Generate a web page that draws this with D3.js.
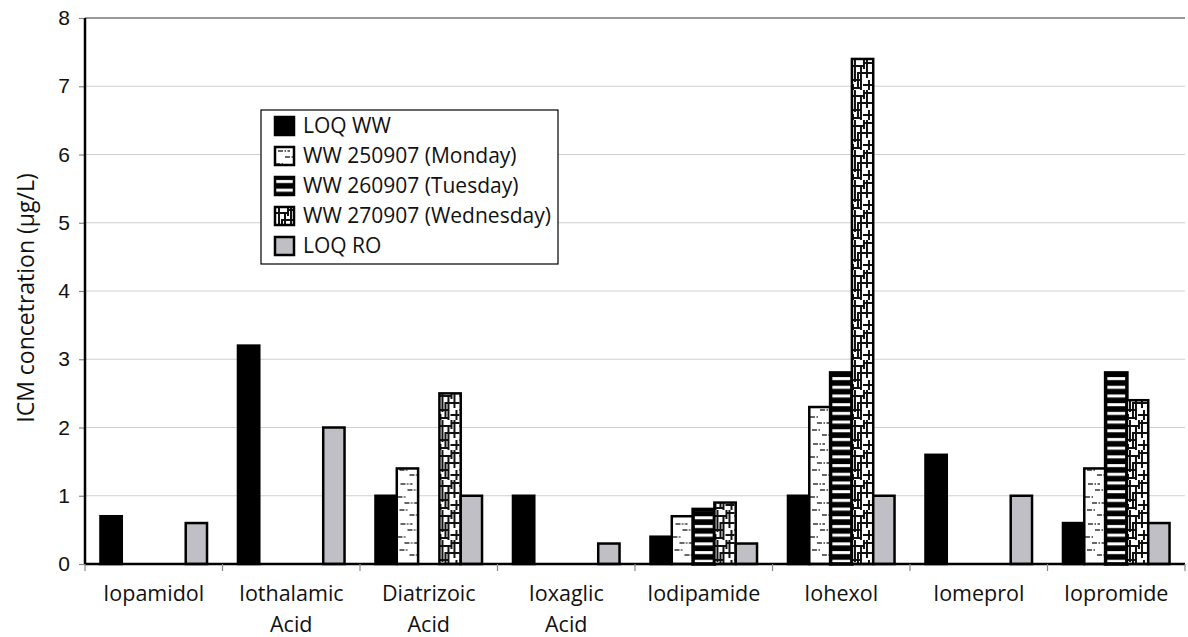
<!DOCTYPE html>
<html>
<head>
<meta charset="utf-8">
<script src="https://cdn.jsdelivr.net/npm/d3@7"></script>
<style>
  body { margin: 0; background: #fff; }
  svg { display: block; font-family: "Open Sans", "Noto Sans", sans-serif; }
</style>
</head>
<body>
<svg id="chart" width="1188" height="637"></svg>
<script>
//// DATA
const categories = ["Iopamidol", "Iothalamic Acid", "Diatrizoic Acid", "Ioxaglic Acid", "Iodipamide", "Iohexol", "Iomeprol", "Iopromide"];
const seriesNames = ["LOQ WW", "WW 250907 (Monday)", "WW 260907 (Tuesday)", "WW 270907 (Wednesday)", "LOQ RO"];
const loqWW   = [0.7, 3.2, 1.0, 1.0, 0.4, 1.0, 1.6, 0.6];
const monday  = [0, 0, 1.4, 0, 0.7, 2.3, 0, 1.4];
const tuesday = [0, 0, 0, 0, 0.8, 2.8, 0, 2.8];
const wednes  = [0, 0, 2.5, 0, 0.9, 7.4, 0, 2.4];
const loqRO   = [0.6, 2.0, 1.0, 0.3, 0.3, 1.0, 1.0, 0.6];
const yTicks = [0, 1, 2, 3, 4, 5, 6, 7, 8];

const seriesValues = [loqWW, monday, tuesday, wednes, loqRO];
const fills = ["#000", "url(#patMon)", "url(#patTue)", "url(#patWed)", "#bfbfc5"];

//// LAYOUT
const margin = { top: 18, right: 3, bottom: 73, left: 85 };
const width = 1188, height = 637;
const svg = d3.select("#chart");

const x0 = d3.scaleBand().domain(categories).range([margin.left, width - margin.right]).paddingInner(0.225).paddingOuter(0.1125);
const x1 = d3.scaleBand().domain(d3.range(seriesNames.length)).range([0, x0.bandwidth()]);
const y = d3.scaleLinear().domain([0, 8]).range([height - margin.bottom, margin.top]);

// patterns
const defs = svg.append("defs");

const pMon = defs.append("pattern").attr("id", "patMon").attr("patternUnits", "userSpaceOnUse")
  .attr("width", 22).attr("height", 40);
pMon.append("rect").attr("width", 22).attr("height", 40).attr("fill", "#fff");
[[3, 4, 12], [10, 10, 11], [0, 17, 9], [7, 23, 14], [2, 30, 8], [12, 35, 10]].forEach(function (s) {
  pMon.append("line").attr("x1", s[0]).attr("x2", s[0] + s[2]).attr("y1", s[1]).attr("y2", s[1])
    .attr("stroke", "#333").attr("stroke-width", 1.4).attr("stroke-dasharray", "5,1.5,1.5,1.5");
});

const pTue = defs.append("pattern").attr("id", "patTue").attr("patternUnits", "userSpaceOnUse")
  .attr("width", 20).attr("height", 8.7);
pTue.append("rect").attr("width", 20).attr("height", 8.7).attr("fill", "#000");
pTue.append("rect").attr("y", 3).attr("width", 20).attr("height", 3).attr("fill", "#fff");

const pWed = defs.append("pattern").attr("id", "patWed").attr("patternUnits", "userSpaceOnUse")
  .attr("width", 21).attr("height", 30);
pWed.append("rect").attr("width", 21).attr("height", 30).attr("fill", "#fff");
[[4, 0, 4, 22], [10, 5, 10, 30], [16, 0, 16, 18], [2, 24, 2, 30], [18, 20, 18, 30], [13, 0, 13, 9], [7, 14, 7, 27]].forEach(function (s) {
  pWed.append("line").attr("x1", s[0]).attr("y1", s[1]).attr("x2", s[2]).attr("y2", s[3])
    .attr("stroke", "#111").attr("stroke-width", 2);
});
[[0, 6, 12], [6, 13, 15], [0, 20, 9], [12, 25, 9], [3, 28, 8], [14, 3, 7]].forEach(function (s) {
  pWed.append("line").attr("x1", s[0]).attr("x2", s[0] + s[2]).attr("y1", s[1]).attr("y2", s[1])
    .attr("stroke", "#111").attr("stroke-width", 2);
});

// gridlines
svg.append("g").selectAll("line").data(yTicks.filter(d => d > 0)).enter().append("line")
  .attr("x1", margin.left).attr("x2", width - margin.right)
  .attr("y1", d => y(d)).attr("y2", d => y(d))
  .attr("stroke", d => d === 8 ? "#999" : "#cfcfcf").attr("stroke-width", d => d === 8 ? 2 : 1.2);

// y axis
const yAxis = svg.append("g").attr("transform", "translate(" + margin.left + ",0)")
  .call(d3.axisLeft(y).tickValues(yTicks).tickSize(6).tickPadding(9));
yAxis.select(".domain").remove();
yAxis.selectAll(".tick line").attr("stroke", "#888").attr("stroke-width", 1.2);
yAxis.selectAll(".tick text").attr("font-size", 21).attr("fill", "#111");

// bars
const groups = svg.append("g").selectAll("g").data(categories).enter().append("g")
  .attr("transform", d => "translate(" + x0(d) + ",0)");
groups.selectAll("rect")
  .data((d, i) => seriesValues.map((vals, s) => ({ s: s, v: vals[i] })).filter(e => e.v > 0))
  .enter().append("rect")
  .attr("x", d => x1(d.s))
  .attr("width", x1.bandwidth())
  .attr("y", d => y(d.v))
  .attr("height", d => y(0) - y(d.v))
  .attr("fill", d => fills[d.s])
  .attr("stroke", "#000")
  .attr("stroke-width", d => d.s === 2 ? 3.5 : 2.5);

// axis lines
svg.append("line").attr("x1", margin.left).attr("x2", margin.left)
  .attr("y1", y(8)).attr("y2", y(0)).attr("stroke", "#000").attr("stroke-width", 2.5);
svg.append("line").attr("x1", margin.left).attr("x2", width - margin.right)
  .attr("y1", y(0)).attr("y2", y(0)).attr("stroke", "#000").attr("stroke-width", 2.5);

// category boundary ticks
const step = x0.step();
svg.append("g").selectAll("line").data(d3.range(categories.length + 1)).enter().append("line")
  .attr("x1", i => margin.left + i * step).attr("x2", i => margin.left + i * step)
  .attr("y1", y(0)).attr("y2", y(0) + 7)
  .attr("stroke", "#888").attr("stroke-width", 1.2);

// category labels
const labels = svg.append("g").selectAll("text").data(categories).enter().append("text")
  .attr("x", d => x0(d) + x0.bandwidth() / 2)
  .attr("y", 601)
  .attr("text-anchor", "middle")
  .attr("font-size", 21.5)
  .attr("fill", "#111");
labels.each(function (d) {
  const parts = d.split(" ");
  const t = d3.select(this);
  parts.forEach(function (p, k) {
    t.append("tspan").attr("x", t.attr("x")).attr("dy", k === 0 ? 0 : 31).text(p);
  });
});

// y title
svg.append("text")
  .attr("transform", "translate(34,298) rotate(-90)")
  .attr("text-anchor", "middle")
  .attr("font-size", 23)
  .attr("fill", "#111")
  .text("ICM concetration (\u00b5g/L)");

// legend
const legend = svg.append("g").attr("transform", "translate(261,110)");
legend.append("rect").attr("width", 297).attr("height", 154)
  .attr("fill", "#fff").attr("stroke", "#000").attr("stroke-width", 1.2);
seriesNames.forEach(function (name, i) {
  const row = legend.append("g").attr("transform", "translate(14," + (7 + i * 30) + ")");
  row.append("rect").attr("width", 19).attr("height", 18)
    .attr("fill", fills[i]).attr("stroke", "#000").attr("stroke-width", 2.5);
  row.append("text").attr("x", 28).attr("y", 16).attr("font-size", 21).attr("fill", "#111").text(name);
});
</script>
</body>
</html>
